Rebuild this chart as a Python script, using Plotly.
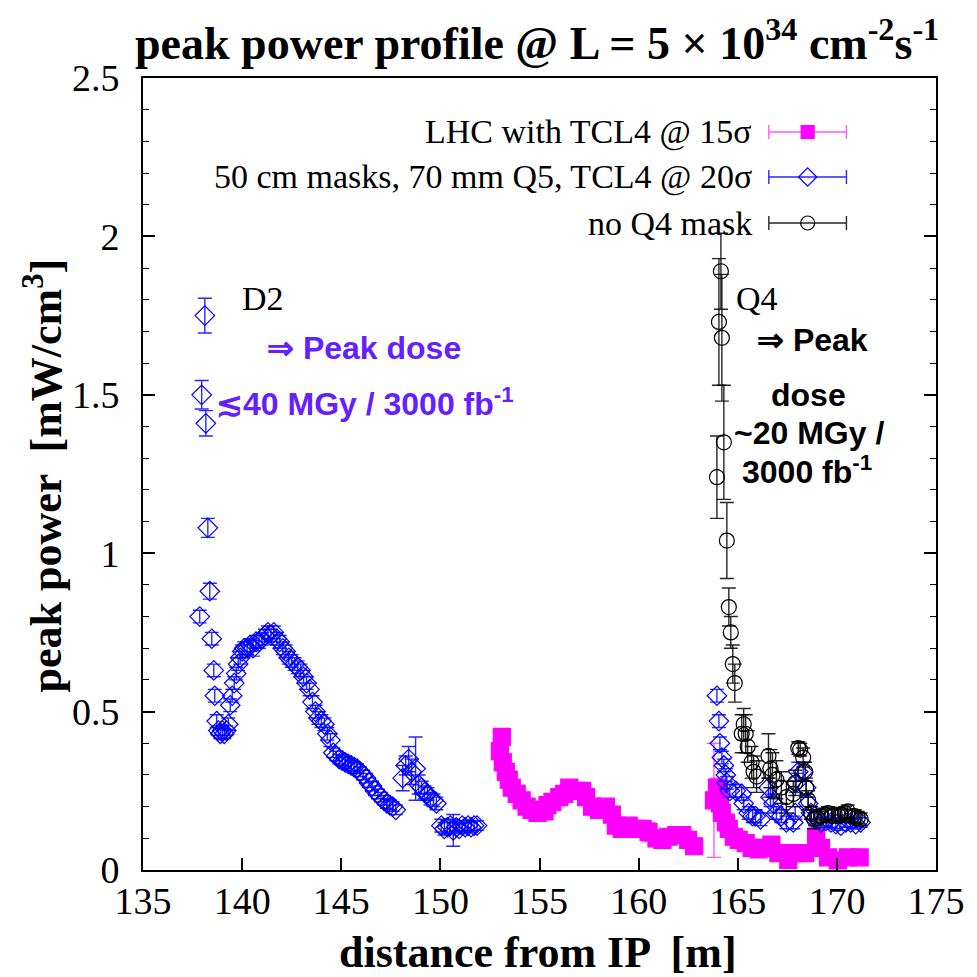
import plotly.graph_objects as go

# ---- LHC with TCL4 @ 15 sigma (magenta squares) ----
lhc_x = [153.00, 153.10, 153.15, 153.30, 153.45, 153.60, 153.85, 154.10, 154.35, 154.60,
         154.90, 155.25, 155.40, 155.65, 156.00, 156.25, 156.50, 156.85, 157.15, 157.35,
         157.65, 158.00, 158.35, 158.65, 158.85, 159.15, 159.50, 159.85, 160.20, 160.50,
         160.90, 161.20, 161.50, 161.90, 162.20, 162.50, 162.80,
         163.80, 163.95, 164.05, 164.10, 164.20, 164.40, 164.55, 164.80, 165.05, 165.40,
         165.70, 166.05, 166.40, 166.70, 167.05, 167.55, 167.90, 168.40, 168.95, 169.20,
         169.55, 170.05, 170.55, 171.15]
lhc_y = [0.375, 0.42, 0.34, 0.31, 0.285, 0.26, 0.24, 0.22, 0.20, 0.19,
         0.18, 0.185, 0.205, 0.215, 0.23, 0.24, 0.26, 0.25, 0.25, 0.23,
         0.20, 0.19, 0.20, 0.175, 0.14, 0.13, 0.14, 0.13, 0.13, 0.12,
         0.10, 0.095, 0.105, 0.11, 0.11, 0.095, 0.075,
         0.22, 0.26, 0.24, 0.21, 0.18, 0.15, 0.13, 0.105, 0.095, 0.085,
         0.07, 0.065, 0.07, 0.08, 0.053, 0.032, 0.053, 0.053, 0.105, 0.07,
         0.04, 0.03, 0.04, 0.04]
lhc_err = [0.015, 0.015, 0.01, 0.01, 0.01, 0.01, 0.01, 0.01, 0.01, 0.01,
           0.01, 0.01, 0.01, 0.01, 0.01, 0.01, 0.01, 0.01, 0.01, 0.01,
           0.015, 0.015, 0.015, 0.025, 0.015, 0.015, 0.015, 0.015, 0.015, 0.03,
           0.015, 0.015, 0.015, 0.015, 0.02, 0.02, 0.02,
           0.18, 0.03, 0.03, 0.03, 0.02, 0.02, 0.02, 0.015, 0.015, 0.015,
           0.015, 0.015, 0.015, 0.015, 0.015, 0.015, 0.015, 0.015, 0.03, 0.015,
           0.015, 0.015, 0.015, 0.015]

# ---- 50 cm masks, 70 mm Q5, TCL4 @ 20 sigma (blue diamonds) ----
mask_x = [137.86, 137.96, 138.12, 138.17, 138.27, 138.37, 138.47, 138.57, 138.62, 138.72,
          138.80, 138.90, 139.00, 139.10, 139.20, 139.30, 139.40, 139.50, 139.60, 139.70,
          139.80, 139.90, 140.00, 140.10, 140.25, 140.40, 140.55, 140.70, 140.85, 141.00,
          141.15, 141.30, 141.45, 141.60, 141.75, 141.90, 142.05, 142.20, 142.35, 142.50,
          142.65, 142.80, 142.95, 143.10, 143.25, 143.40, 143.55, 143.70, 143.85, 144.00,
          144.15, 144.30, 144.45, 144.60, 144.75, 144.90, 145.05, 145.20, 145.35, 145.50,
          145.65, 145.80, 145.95, 146.10, 146.25, 146.40, 146.55, 146.70, 146.85, 147.00,
          147.15, 147.30, 147.45, 147.60, 147.75,
          148.10, 148.25, 148.40, 148.55, 148.75, 148.90, 149.05, 149.20, 149.35, 149.50,
          149.65, 149.80,
          150.05, 150.20, 150.35, 150.50, 150.65, 150.80, 150.95, 151.10, 151.25, 151.40,
          151.55, 151.70, 151.85,
          163.95, 164.05, 164.10, 164.20, 164.30, 164.40, 164.45, 164.60, 164.90, 165.20,
          165.30, 165.55, 165.75, 165.90, 166.15, 166.55, 166.65, 166.80, 166.95, 167.20,
          167.45, 167.80, 167.90, 167.95, 168.05, 168.30, 168.45, 168.55, 168.70, 168.90,
          169.20, 169.45, 169.70, 169.95, 170.20, 170.45, 170.70, 170.95, 171.20]
mask_y = [0.80, 1.50, 1.75, 1.41, 1.08, 0.88, 0.73, 0.63, 0.55, 0.47,
          0.44, 0.43, 0.44, 0.43, 0.44, 0.46, 0.52, 0.55, 0.59, 0.62,
          0.65, 0.67, 0.69, 0.70, 0.70, 0.71, 0.70, 0.72, 0.72, 0.73,
          0.74, 0.75, 0.74, 0.75, 0.73, 0.72, 0.70, 0.69, 0.67, 0.66,
          0.65, 0.64, 0.63, 0.61, 0.59, 0.57, 0.53, 0.50, 0.48, 0.47,
          0.46, 0.43, 0.41, 0.37, 0.36, 0.35, 0.345, 0.34, 0.335, 0.33,
          0.325, 0.32, 0.31, 0.30, 0.29, 0.275, 0.265, 0.25, 0.24, 0.23,
          0.22, 0.21, 0.205, 0.20, 0.19,
          0.29, 0.33, 0.35, 0.31, 0.32, 0.27, 0.26, 0.245, 0.24, 0.225,
          0.22, 0.21,
          0.14, 0.13, 0.135, 0.14, 0.125, 0.135, 0.13, 0.14, 0.135, 0.14,
          0.135, 0.14, 0.14,
          0.55, 0.47, 0.40, 0.355, 0.33, 0.30, 0.275, 0.25, 0.25, 0.24,
          0.21, 0.18, 0.17, 0.17, 0.16, 0.26, 0.23, 0.21, 0.18, 0.17,
          0.15, 0.15, 0.18, 0.275, 0.31, 0.31, 0.26, 0.21, 0.18, 0.16,
          0.15, 0.155, 0.15, 0.145, 0.14, 0.15, 0.15, 0.145, 0.15]
mask_err = [0.02, 0.045, 0.055, 0.04, 0.03, 0.025, 0.02, 0.02, 0.02, 0.02,
            0.015, 0.015, 0.015, 0.015, 0.015, 0.02, 0.02, 0.02, 0.02, 0.02,
            0.02, 0.02, 0.02, 0.02, 0.02, 0.02, 0.025, 0.02, 0.02, 0.02,
            0.02, 0.02, 0.02, 0.02, 0.02, 0.02, 0.02, 0.02, 0.02, 0.02,
            0.02, 0.02, 0.02, 0.02, 0.02, 0.02, 0.02, 0.02, 0.02, 0.02,
            0.02, 0.02, 0.02, 0.015, 0.015, 0.015, 0.015, 0.015, 0.015, 0.015,
            0.015, 0.015, 0.015, 0.015, 0.015, 0.015, 0.015, 0.015, 0.015, 0.015,
            0.015, 0.015, 0.015, 0.015, 0.015,
            0.04, 0.03, 0.04, 0.04, 0.10, 0.03, 0.02, 0.02, 0.02, 0.02,
            0.02, 0.02,
            0.02, 0.02, 0.02, 0.02, 0.05, 0.015, 0.015, 0.015, 0.015, 0.015,
            0.015, 0.015, 0.015,
            0.02, 0.02, 0.02, 0.02, 0.02, 0.02, 0.02, 0.02, 0.02, 0.02,
            0.02, 0.02, 0.02, 0.02, 0.02, 0.03, 0.03, 0.03, 0.02, 0.02,
            0.02, 0.02, 0.02, 0.03, 0.03, 0.03, 0.02, 0.02, 0.02, 0.02,
            0.015, 0.015, 0.015, 0.015, 0.015, 0.015, 0.015, 0.015, 0.015]

# ---- no Q4 mask (black circles) ----
noq4_x = [163.95, 164.05, 164.15, 164.20, 164.30, 164.45, 164.55, 164.65, 164.75, 164.85,
          165.20, 165.30, 165.40, 165.50, 165.70, 165.80, 165.95, 166.55, 166.65, 166.75,
          166.95, 167.20, 167.45, 167.80, 167.90, 168.05, 168.15, 168.30, 168.40, 168.45,
          168.55, 168.70, 168.85, 169.00, 169.20, 169.40, 169.55, 169.75, 169.90, 170.10,
          170.20, 170.40, 170.55, 170.75, 170.90, 171.05, 171.20]
noq4_y = [1.24, 1.73, 1.89, 1.68, 1.35, 1.04, 0.83, 0.75, 0.65, 0.59,
          0.43, 0.46, 0.43, 0.39, 0.34, 0.31, 0.295, 0.36, 0.32, 0.30,
          0.285, 0.26, 0.23, 0.24, 0.275, 0.385, 0.38, 0.355, 0.31, 0.26,
          0.22, 0.18, 0.16, 0.165, 0.17, 0.175, 0.18, 0.17, 0.175, 0.17,
          0.175, 0.18, 0.185, 0.17, 0.17, 0.165, 0.16]
noq4_err = [0.13, 0.2, 0.12, 0.2, 0.18, 0.12, 0.06, 0.05, 0.06, 0.06,
            0.06, 0.05, 0.06, 0.05, 0.05, 0.05, 0.05, 0.07, 0.06, 0.07,
            0.06, 0.05, 0.05, 0.04, 0.04, 0.02, 0.02, 0.03, 0.03, 0.03,
            0.03, 0.02, 0.03, 0.02, 0.02, 0.02, 0.02, 0.02, 0.02, 0.02,
            0.02, 0.02, 0.02, 0.02, 0.02, 0.02, 0.02]

series_names = ["LHC with TCL4 @ 15σ",
                "50 cm masks, 70 mm Q5, TCL4 @ 20σ",
                "no Q4 mask"]
x_ticks = [135, 140, 145, 150, 155, 160, 165, 170, 175]
y_ticks = [0, 0.5, 1, 1.5, 2, 2.5]
y_tick_text = ["0", "0.5", "1", "1.5", "2", "2.5"]

MAGENTA = "#ff00ff"
BLUE = "#0000ff"
VIOLET = "#6420ff"
SERIF = "Liberation Serif"
SANS = "Liberation Sans"

# canvas / plot-area geometry in pixels
W = H = 977
L_M, R_M, T_M, B_M = 143, 37, 78, 107
PW, PH = W - L_M - R_M, H - T_M - B_M


def px(x):
    return (x - L_M) / PW


def py(y):
    return (H - B_M - y) / PH


fig = go.Figure()

styles = [
    dict(x=lhc_x, y=lhc_y, e=lhc_err, sym="square", size=17, col=MAGENTA,
         ecol="rgba(255,0,255,0.65)", key_size=13),
    dict(x=mask_x, y=mask_y, e=mask_err, sym="diamond-open", size=15, col=BLUE,
         ecol="rgba(0,0,255,0.85)", key_size=14),
    dict(x=noq4_x, y=noq4_y, e=noq4_err, sym="circle-open", size=15, col="black",
         ecol="rgba(0,0,0,0.85)", key_size=14),
]

for name, s in zip(series_names, styles):
    fig.add_trace(go.Scatter(
        x=s["x"], y=s["y"], mode="markers", name=name, showlegend=False,
        marker=dict(symbol=s["sym"], size=s["size"], color=s["col"],
                    line=dict(color=s["col"], width=1.2)),
        error_y=dict(type="data", array=s["e"], visible=True, color=s["ecol"],
                     thickness=1.4, width=7),
    ))

# key samples drawn on an overlay axis spanning the plot area in [0, 1]
key_y_px = [132, 177, 223]
for name, s, ky in zip(series_names, styles, key_y_px):
    fig.add_trace(go.Scatter(
        x=[px(811)], y=[py(ky)], mode="markers", xaxis="x2", yaxis="y2",
        showlegend=False, hoverinfo="skip",
        marker=dict(symbol=s["sym"], size=s["key_size"], color=s["col"],
                    line=dict(color=s["col"], width=1.2)),
        error_x=dict(type="constant", value=39 / PW, visible=True, color=s["ecol"],
                     thickness=1.4, width=7),
    ))
    fig.add_annotation(x=px(757), y=py(ky), xref="paper", yref="paper",
                       text=name, showarrow=False, xanchor="right", yanchor="middle",
                       font=dict(family=SERIF, size=34, color="black"))


# text labels
def label(text, x, y, size, color="black", family=SANS, bold=True, xanchor="center"):
    fig.add_annotation(x=px(x), y=py(y), xref="paper", yref="paper",
                       text=f"<b>{text}</b>" if bold else text, showarrow=False,
                       xanchor=xanchor, yanchor="middle",
                       font=dict(family=family, size=size, color=color))


label("D2", 240, 298, 34, family=SERIF, bold=False, xanchor="left")
label("⇒ Peak dose", 266, 348, 32, color=VIOLET, xanchor="left")
label("≲40 MGy / 3000 fb<sup>-1</sup>", 214, 402, 32, color=VIOLET, xanchor="left")
label("Q4", 737, 298, 34, family=SERIF, bold=False, xanchor="left")
label("⇒ Peak", 816, 340, 32)
label("dose", 812, 395, 32)
label("~20 MGy /", 812, 433, 32)
label("3000 fb<sup>-1</sup>", 810, 470, 32)

# chart and axis titles
fig.add_annotation(x=px(539), y=py(40), xref="paper", yref="paper", showarrow=False,
                   text="<b>peak power profile @ L = 5 × 10<sup>34</sup> cm<sup>-2</sup>s<sup>-1</sup></b>",
                   xanchor="center", yanchor="middle",
                   font=dict(family=SERIF, size=46, color="black"))
fig.add_annotation(x=px(540), y=py(952), xref="paper", yref="paper", showarrow=False,
                   text="<b>distance from IP  [m]</b>", xanchor="center", yanchor="middle",
                   font=dict(family=SERIF, size=44, color="black"))
fig.add_annotation(x=px(42), y=py(476), xref="paper", yref="paper", showarrow=False,
                   text="<b>peak power  [mW/cm<sup>3</sup>]</b>", textangle=-90,
                   xanchor="center", yanchor="middle",
                   font=dict(family=SERIF, size=44, color="black"))

fig.update_layout(
    width=W, height=H,
    margin=dict(l=L_M, r=R_M, t=T_M, b=B_M),
    paper_bgcolor="white", plot_bgcolor="white",
    showlegend=False,
    xaxis=dict(range=[135, 175], tickvals=x_ticks, ticks="inside", ticklen=12,
               tickwidth=1.5, tickcolor="black", showline=True, linecolor="black",
               linewidth=2, mirror=True, showgrid=False, zeroline=False,
               ticklabelstandoff=-4,
               tickfont=dict(family=SERIF, size=38, color="black")),
    yaxis=dict(range=[0, 2.5], tickvals=y_ticks, ticktext=y_tick_text, ticks="inside",
               ticklen=12, tickwidth=1.5, tickcolor="black", showline=True,
               linecolor="black", linewidth=2, mirror="ticks", showgrid=False,
               zeroline=False, ticklabelstandoff=14,
               tickfont=dict(family=SERIF, size=38, color="black"),
               minor=dict(dtick=0.1, ticks="inside", ticklen=6, tickcolor="black",
                          tickwidth=1.2, showgrid=False)),
    xaxis2=dict(range=[0, 1], overlaying="x", visible=False, anchor="y2"),
    yaxis2=dict(range=[0, 1], overlaying="y", visible=False, anchor="x2"),
)

fig.write_html("out.html")
